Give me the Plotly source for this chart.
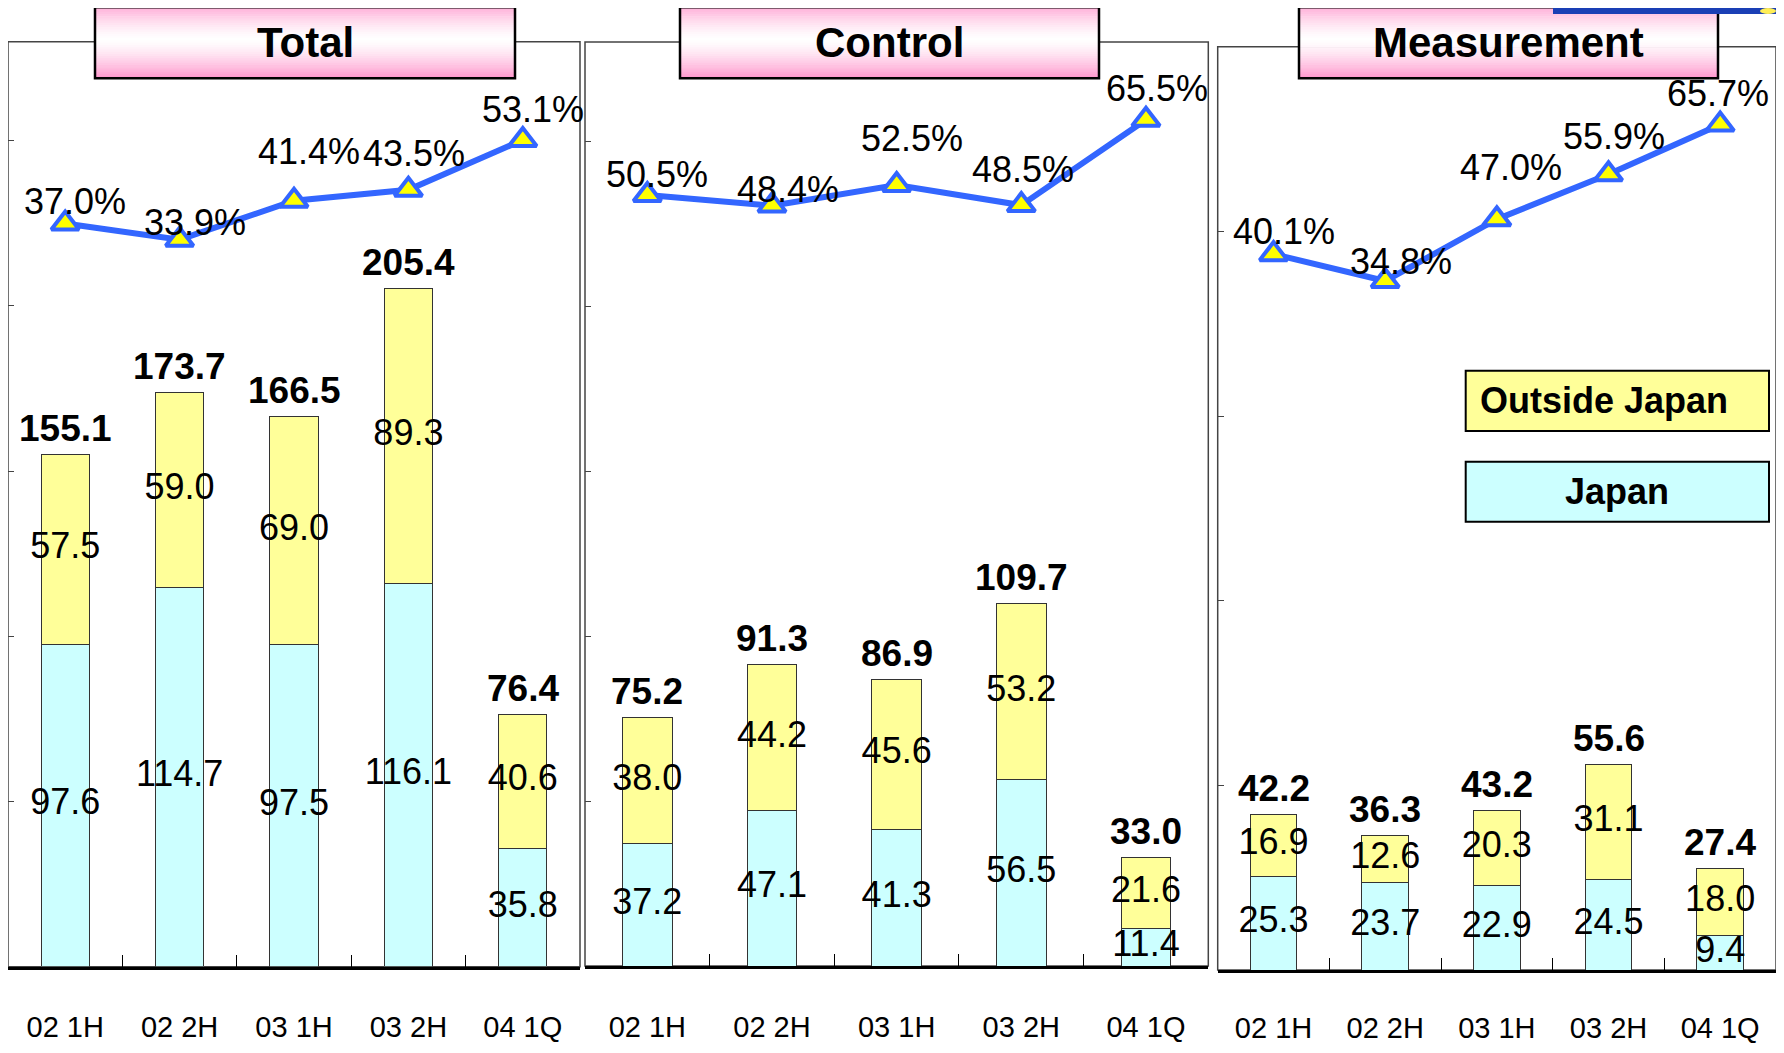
import plotly.graph_objects as go

# page is 1784x1053; the html body adds an 8px margin, so the figure is that much smaller
OFF = 8
W, H = 1784 - 2 * OFF, 1053 - 2 * OFF

periods = ["02 1H", "02 2H", "03 1H", "03 2H", "04 1Q"]
titles = ["Total", "Control", "Measurement"]

japan_total = [97.6, 114.7, 97.5, 116.1, 35.8]
outside_total = [57.5, 59.0, 69.0, 89.3, 40.6]
sum_total = [155.1, 173.7, 166.5, 205.4, 76.4]
ratio_total = [37.0, 33.9, 41.4, 43.5, 53.1]

japan_control = [37.2, 47.1, 41.3, 56.5, 11.4]
outside_control = [38.0, 44.2, 45.6, 53.2, 21.6]
sum_control = [75.2, 91.3, 86.9, 109.7, 33.0]
ratio_control = [50.5, 48.4, 52.5, 48.5, 65.5]

japan_meas = [25.3, 23.7, 22.9, 24.5, 9.4]
outside_meas = [16.9, 12.6, 20.3, 31.1, 18.0]
sum_meas = [42.2, 36.3, 43.2, 55.6, 27.4]
ratio_meas = [40.1, 34.8, 47.0, 55.9, 65.7]

series = [
    (japan_total, outside_total, sum_total, ratio_total),
    (japan_control, outside_control, sum_control, ratio_control),
    (japan_meas, outside_meas, sum_meas, ratio_meas),
]

# pixel layout of each panel (page coords): left, right, top, bottom, bar max, pct range, bar width, title box
boxes = [
    dict(l=7.5, r=580, t=41.7, b=966.7, ymax=280, y2=[-106, 72], bw=0.42, tl=95, tr=515, so=33),
    dict(l=585, r=1208.3, t=42, b=966, ymax=280, y2=[-103.1, 81.0], bw=0.40, tl=680, tr=1099, so=33),
    dict(l=1217.7, r=1782, t=46.7, b=970, ymax=250, y2=[-101.4, 81.1], bw=0.42, tl=1299, tr=1718, so=30),
]
pct_shift = [
    [(10, 22), (15, 17), (15, 49), (6, 36), (10, 30)],
    [(10, 21), (16, 16), (15, 47), (2, 36), (11, 31)],
    [(10, 23), (16, 19), (14, 52), (5, 38), (-2, 31)],
]

FONT = "Liberation Sans, Arial, sans-serif"
JP_COL = "#ccffff"
OUT_COL = "#ffff99"
LINE_COL = "#3366ff"


def px(x):
    return (x - OFF) / W


def py(y):
    return 1 - (y - OFF) / H


fig = go.Figure()
shapes = []
annotations = []
layout = {}

for i, (jp, out, tot, ratio) in enumerate(series):
    bx = boxes[i]
    xa = "x" if i == 0 else f"x{i + 1}"
    ya = "y" if i == 0 else f"y{i + 1}"
    ya2 = f"y{i + 4}"

    fig.add_trace(go.Bar(x=periods, y=jp, width=bx["bw"], marker=dict(color=JP_COL, line=dict(color="#333333", width=1)),
                         xaxis=xa, yaxis=ya, showlegend=False))
    fig.add_trace(go.Bar(x=periods, y=out, width=bx["bw"], marker=dict(color=OUT_COL, line=dict(color="#333333", width=1)),
                         xaxis=xa, yaxis=ya, showlegend=False))

    # segment labels in the middle of each part
    mid_y = [v / 2 for v in jp] + [a + b / 2 for a, b in zip(jp, out)]
    mid_t = [f"{v:.1f}" for v in jp] + [f"{v:.1f}" for v in out]
    fig.add_trace(go.Scatter(x=periods + periods, y=mid_y, text=mid_t, mode="text",
                             textfont=dict(family=FONT, size=36, color="black"),
                             xaxis=xa, yaxis=ya, showlegend=False, cliponaxis=False))

    fig.add_trace(go.Scatter(x=periods, y=ratio, mode="lines+markers", xaxis=xa, yaxis=ya2,
                             line=dict(color=LINE_COL, width=6),
                             marker=dict(symbol="triangle-up", size=24, color="#ffff00",
                                         line=dict(color=LINE_COL, width=4)),
                             showlegend=False, cliponaxis=False))

    for k, p in enumerate(periods):
        annotations.append(dict(x=p, y=tot[k], xref=xa, yref=ya, text=f"<b>{tot[k]:.1f}</b>", showarrow=False,
                                yanchor="middle", yshift=26, font=dict(family=FONT, size=37, color="black")))
        sx, sy = pct_shift[i][k]
        annotations.append(dict(x=p, y=ratio[k], xref=xa, yref=ya2, text=f"{ratio[k]:.1f}%", showarrow=False,
                                xanchor="center", yanchor="middle", xshift=sx, yshift=sy,
                                font=dict(family=FONT, size=36, color="black")))

    xdom = [max(0, px(bx["l"])), min(1, px(bx["r"]))]
    ydom = [py(bx["b"]), py(bx["t"])]
    layout["xaxis" if i == 0 else f"xaxis{i + 1}"] = dict(
        domain=xdom, anchor=ya, type="category", range=[-0.5, 4.5], showgrid=False, automargin=False,
        showline=True, linecolor="black", linewidth=2.5, ticks="inside", tickson="boundaries",
        ticklen=12, tickcolor="black", tickwidth=1.2, ticklabelstandoff=bx["so"],
        tickfont=dict(family=FONT, size=29, color="black"), fixedrange=True)
    layout["yaxis" if i == 0 else f"yaxis{i + 1}"] = dict(
        domain=ydom, anchor=xa, range=[0, bx["ymax"]], showgrid=False, zeroline=False, automargin=False,
        showline=False, ticks="inside", ticklen=6, tickcolor="#444444", tick0=0, dtick=50,
        showticklabels=False, fixedrange=True)
    layout[f"yaxis{i + 4}"] = dict(overlaying=ya, anchor=xa, range=bx["y2"], visible=False,
                                   automargin=False, fixedrange=True)

    # panel frame
    shapes.append(dict(type="rect", xref="paper", yref="paper", x0=xdom[0], x1=xdom[1], y0=ydom[0], y1=ydom[1],
                       line=dict(color="#444444", width=1.5), layer="below"))

    # title box with vertical pink gradient
    top, bot = 7.3, 78.3
    n = 32
    for s in range(n):
        t = (s + 0.5) / n
        d = min(1.0, abs(t - 0.45) / 0.55) ** 1.4
        g = round(255 - (255 - 150) * d)
        b = round(255 - (255 - 204) * d)
        y0 = top + (bot - top) * s / n
        y1 = top + (bot - top) * (s + 1) / n + 0.6
        shapes.append(dict(type="rect", xref="paper", yref="paper", x0=px(bx["tl"]), x1=px(bx["tr"]),
                           y0=py(y1), y1=py(y0), line=dict(width=0), fillcolor=f"rgb(255,{g},{b})", layer="above"))
    shapes.append(dict(type="rect", xref="paper", yref="paper", x0=px(bx["tl"]), x1=px(bx["tr"]),
                       y0=py(bot), y1=py(top), line=dict(color="black", width=2.5), layer="above"))
    annotations.append(dict(x=px((bx["tl"] + bx["tr"]) / 2), y=py((top + bot) / 2), xref="paper", yref="paper",
                            text=f"<b>{titles[i]}</b>", showarrow=False, xanchor="center", yanchor="middle",
                            font=dict(family=FONT, size=42, color="black")))

# legend boxes
for name, col, y0, y1, anchor, xt in [("Outside Japan", OUT_COL, 370.7, 431, "left", 1478),
                                       ("Japan", JP_COL, 461.7, 521.7, "center", 1617)]:
    shapes.append(dict(type="rect", xref="paper", yref="paper", x0=px(1465.7), x1=px(1769),
                       y0=py(y1), y1=py(y0), fillcolor=col, line=dict(color="black", width=2), layer="above"))
    annotations.append(dict(x=px(xt), y=py((y0 + y1) / 2), xref="paper", yref="paper", text=f"<b>{name}</b>",
                            showarrow=False, xanchor=anchor, yanchor="middle",
                            font=dict(family=FONT, size=36, color="black")))

# corner logo strip (cut by the top edge)
shapes.append(dict(type="rect", xref="paper", yref="paper", x0=px(1553), x1=1, y0=py(14), y1=1,
                   fillcolor="#1a3fb5", line=dict(width=0), layer="above"))
shapes.append(dict(type="circle", xref="paper", yref="paper", x0=px(1760), x1=px(1776), y0=py(14), y1=1,
                   fillcolor="#ffee55", line=dict(width=0), layer="above"))

fig.update_layout(
    width=W, height=H, margin=dict(l=0, r=0, t=0, b=0),
    paper_bgcolor="white", plot_bgcolor="white",
    barmode="stack", showlegend=False,
    shapes=shapes, annotations=annotations, **layout)

fig.write_html("out.html")
